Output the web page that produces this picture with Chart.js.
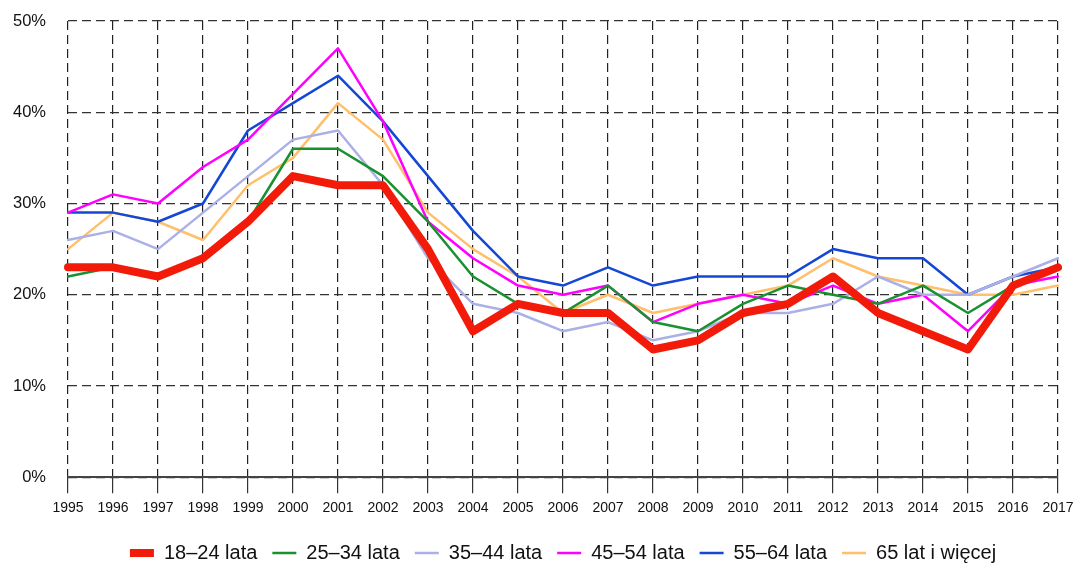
<!DOCTYPE html>
<html>
<head>
<meta charset="utf-8">
<script src="https://cdn.jsdelivr.net/npm/chart.js@4.4.1/dist/chart.umd.min.js"></script>
<style>
  html, body { margin: 0; padding: 0; background: #fff; }
  #wrap { width: 1074px; height: 565px; }
</style>
</head>
<body>
<div id="wrap"><canvas id="chart"></canvas></div>
<script>
const years = ['1995','1996','1997','1998','1999','2000','2001','2002','2003','2004','2005',
  '2006','2007','2008','2009','2010','2011','2012','2013','2014','2015','2016','2017'];

const age18_24 = [23, 23, 22, 24, 28, 33, 32, 32, 25, 16, 19, 18, 18, 14, 15, 18, 19, 22, 18, 16, 14, 21, 23];
const age25_34 = [22, 23, 22, 24, 28, 36, 36, 33, 28, 22, 19, 18, 21, 17, 16, 19, 21, 20, 19, 21, 18, 21, 23];
const age35_44 = [26, 27, 25, 29, 33, 37, 38, 32, 24, 19, 18, 16, 17, 15, 16, 18, 18, 19, 22, 20, 20, 22, 24];
const age45_54 = [29, 31, 30, 34, 37, 42, 47, 39, 28, 24, 21, 20, 21, 17, 19, 20, 19, 21, 19, 20, 16, 21, 22];
const age55_64 = [29, 29, 28, 30, 38, 41, 44, 39, 33, 27, 22, 21, 23, 21, 22, 22, 22, 25, 24, 24, 20, 22, 23];
const age65plus = [25, 29, 28, 26, 32, 35, 41, 37, 29, 25, 22, 18, 20, 18, 19, 20, 21, 24, 22, 21, 20, 20, 21];

const seriesNames = ['18–24 lata', '25–34 lata', '35–44 lata', '45–54 lata', '55–64 lata', '65 lat i więcej'];
const seriesColors = ['#f21b0a', '#1a9130', '#abb0e6', '#ff00ff', '#1447d6', '#ffbf6b'];
const seriesWidths = [8, 2.5, 2.5, 2.5, 2.5, 2.5];
const seriesData = [age18_24, age25_34, age35_44, age45_54, age55_64, age65plus];

const ctx = document.getElementById('chart').getContext('2d');
new Chart(ctx, {
  type: 'line',
  data: {
    labels: years,
    datasets: seriesData.map((d, i) => ({
      label: seriesNames[i],
      data: d,
      borderColor: seriesColors[i],
      backgroundColor: seriesColors[i],
      borderWidth: seriesWidths[i],
      borderCapStyle: 'round',
      borderJoinStyle: 'round',
      pointRadius: 0,
      pointHoverRadius: 0,
      tension: 0,
      fill: false
    }))
  },
  options: {
    responsive: true,
    maintainAspectRatio: false,
    animation: false,
    layout: { padding: { left: 0, right: 16, top: 21, bottom: -8 } },
    scales: {
      x: {
        offset: false,
        afterFit: scale => {
          scale.height += 4;
          scale.paddingRight = 0;
        },
        grid: {
          color: '#222',
          lineWidth: 1.2,
          tickLength: 16,
          tickColor: '#333',
          tickBorderDash: []
        },
        border: { display: true, color: '#444', width: 2, dash: [9, 5] },
        ticks: {
          color: '#111',
          font: { family: 'Liberation Sans, Arial', size: 14 },
          maxRotation: 0,
          autoSkip: false,
          padding: 7
        }
      },
      y: {
        min: 0,
        max: 50,
        afterFit: scale => { scale.width = 68; },
        grid: {
          color: '#333',
          lineWidth: 1.2,
          drawTicks: true,
          tickLength: 22,
          tickColor: 'rgba(0,0,0,0)'
        },
        border: { display: false, dash: [9, 5] },
        ticks: {
          stepSize: 10,
          padding: 0,
          color: '#111',
          font: { family: 'Liberation Sans, Arial', size: 16.5 },
          callback: v => v + '%'
        }
      }
    },
    plugins: {
      legend: {
        position: 'bottom',
        fullSize: false,
        labels: {
          usePointStyle: true,
          pointStyle: 'line',
          pointStyleWidth: 24,
          color: '#111',
          font: { family: 'Liberation Sans, Arial', size: 20 },
          padding: 15
        }
      },
      tooltip: { enabled: false }
    }
  }
});
</script>
</body>
</html>
